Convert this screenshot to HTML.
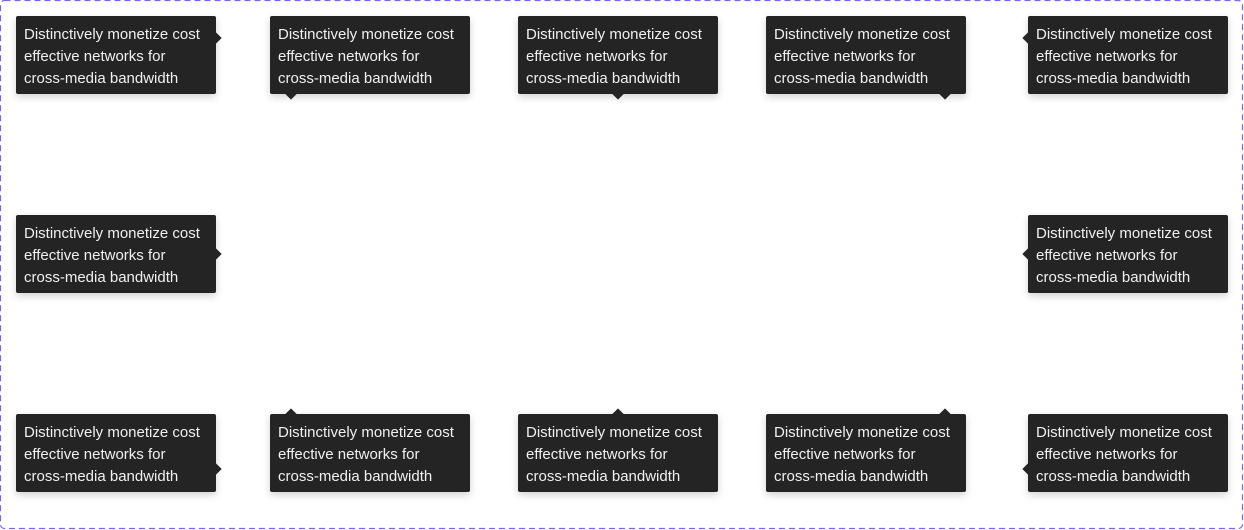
<!DOCTYPE html>
<html><head><style>
body{margin:0;width:1244px;height:530px;background:#fff;position:relative;overflow:hidden;font-family:"Liberation Sans",sans-serif;}
svg.f{position:absolute;left:0;top:0;}
.t{position:absolute;width:184px;height:64px;padding:8px 8px 6px;background:#242424;color:#f0f0f0;font-size:15px;line-height:22px;border-radius:2px;box-shadow:0 3px 8px rgba(0,0,0,.18);white-space:nowrap;}
.t i{position:absolute;width:8px;height:8px;background:#242424;transform:rotate(45deg);}
</style></head><body>
<svg class="f" width="1244" height="530"><rect x="0.5" y="0.5" width="1242" height="528" rx="4" fill="none" stroke="#7b63f0" stroke-width="1.2" stroke-dasharray="6 4"/></svg>
<div class="t" style="left:16px;top:16px">Distinctively monetize cost<br>effective networks for<br>cross-media bandwidth<i style="right:-4px;top:18px"></i></div>
<div class="t" style="left:270px;top:16px">Distinctively monetize cost<br>effective networks for<br>cross-media bandwidth<i style="left:17px;bottom:-4px"></i></div>
<div class="t" style="left:518px;top:16px">Distinctively monetize cost<br>effective networks for<br>cross-media bandwidth<i style="left:96px;bottom:-4px"></i></div>
<div class="t" style="left:766px;top:16px">Distinctively monetize cost<br>effective networks for<br>cross-media bandwidth<i style="right:17px;bottom:-4px"></i></div>
<div class="t" style="left:1028px;top:16px">Distinctively monetize cost<br>effective networks for<br>cross-media bandwidth<i style="left:-4px;top:18px"></i></div>
<div class="t" style="left:16px;top:215px">Distinctively monetize cost<br>effective networks for<br>cross-media bandwidth<i style="right:-4px;top:35px"></i></div>
<div class="t" style="left:1028px;top:215px">Distinctively monetize cost<br>effective networks for<br>cross-media bandwidth<i style="left:-4px;top:35px"></i></div>
<div class="t" style="left:16px;top:414px">Distinctively monetize cost<br>effective networks for<br>cross-media bandwidth<i style="right:-4px;top:51px"></i></div>
<div class="t" style="left:270px;top:414px">Distinctively monetize cost<br>effective networks for<br>cross-media bandwidth<i style="left:17px;top:-4px"></i></div>
<div class="t" style="left:518px;top:414px">Distinctively monetize cost<br>effective networks for<br>cross-media bandwidth<i style="left:96px;top:-4px"></i></div>
<div class="t" style="left:766px;top:414px">Distinctively monetize cost<br>effective networks for<br>cross-media bandwidth<i style="right:17px;top:-4px"></i></div>
<div class="t" style="left:1028px;top:414px">Distinctively monetize cost<br>effective networks for<br>cross-media bandwidth<i style="left:-4px;top:51px"></i></div>
</body></html>
